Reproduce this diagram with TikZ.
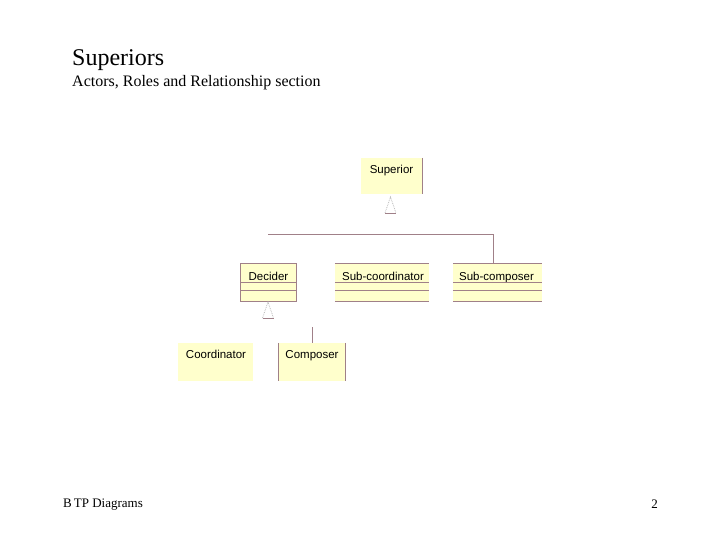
\documentclass[tikz,border=0pt]{standalone}
\usepackage{fontspec}
\setmainfont{Liberation Serif}
\newfontfamily\umlfont{Liberation Sans}
\usetikzlibrary{positioning}
\definecolor{umlfill}{HTML}{FFFFCC}
\definecolor{umledge}{HTML}{A08088}
\tikzset{
  classbox/.style={fill=umlfill, draw=none, inner sep=0pt},
  classname/.style={anchor=base, inner sep=0pt, font=\umlfont\fontsize{11.5}{13}\selectfont},
  umlline/.style={draw=umledge, line width=0.75pt},
  genside/.style={draw=gray!55, densely dotted, line width=0.8pt},
  slidetext/.style={anchor=base west, inner sep=0pt}
}

\begin{document}
\begin{tikzpicture}[x=1pt, y=-1pt]
\useasboundingbox (0,0) rectangle (720,540);
% Slide texts
    \node[slidetext, font=\fontsize{24}{28}\selectfont] (title) at (72,66) {Superiors};
    \node[slidetext, font=\fontsize{16}{19}\selectfont] (subtitle) at (72,87) {Actors, Roles and Relationship section};
    \node[slidetext, font=\fontsize{13}{15}\selectfont] (footer) at (63,507) {B\kern2pt TP Diagrams};
    \node[slidetext, anchor=base east, font=\fontsize{13}{15}\selectfont] (pagenum) at (658,508) {2};
% Class boxes
    \node[classbox, minimum width=61, minimum height=36] (superior) at (391.5,176) {};
    \node[classbox, minimum width=55, minimum height=37] (decider) at (268.5,282.5) {};
    \node[classbox, minimum width=94, minimum height=37] (subcoord) at (382,282.5) {};
    \node[classbox, minimum width=89, minimum height=37] (subcomp) at (497.5,282.5) {};
    \node[classbox, minimum width=75, minimum height=38] (coordinator) at (215.5,362) {};
    \node[classbox, minimum width=66, minimum height=38] (composer) at (312,362) {};
% Class names
    \node[classname] (superiorname) at (391.5,173.5) {Superior};
    \node[classname] (decidername) at (268.5,280) {Decider};
    \node[classname] (subcoordname) at (383,280) {Sub-coordinator};
    \node[classname] (subcompname) at (496.5,280) {Sub-composer};
    \node[classname] (coordinatorname) at (216,358.5) {Coordinator};
    \node[classname] (composername) at (312,358.5) {Composer};
% Borders
    \draw[umlline] (superior.north east) -- (superior.south east);
    \draw[umlline] (decider.north west) rectangle (decider.south east);
    \draw[umlline] (decider.north west) ++(0,19) -- ++(55,0);
    \draw[umlline] (decider.north west) ++(0,27) -- ++(55,0);
    \draw[umlline] (subcoord.north west) -- (subcoord.north east);
    \draw[umlline] (subcoord.north west) ++(0,19) -- ++(94,0);
    \draw[umlline] (subcoord.north west) ++(0,27) -- ++(94,0);
    \draw[umlline] (subcoord.south west) -- (subcoord.south east);
    \draw[umlline] (subcomp.north west) -- (subcomp.north east);
    \draw[umlline] (subcomp.north west) ++(0,19) -- ++(89,0);
    \draw[umlline] (subcomp.north west) ++(0,27) -- ++(89,0);
    \draw[umlline] (subcomp.south west) -- (subcomp.south east);
    \draw[umlline] (composer.north west) -- (composer.south west);
    \draw[umlline] (composer.north east) -- (composer.south east);
% Generalisation triangles
    \draw[genside] (385,213) -- (390.5,197) -- (396,213);
    \draw[umlline] (385,213) -- (396,213);
    \draw[genside] (262.5,318) -- (268,302) -- (273.5,318);
    \draw[umlline] (262.5,318) -- (273.5,318);
% Connectors
    \coordinate (branch) at (268,234);
    \coordinate (subcomptop) at (493,264);
    \coordinate (composerstub) at (312,327);
    \draw[umlline] (branch) -| (subcomptop);
    \draw[umlline] (composerstub) -- (composer.north);
\end{tikzpicture}
\end{document}
